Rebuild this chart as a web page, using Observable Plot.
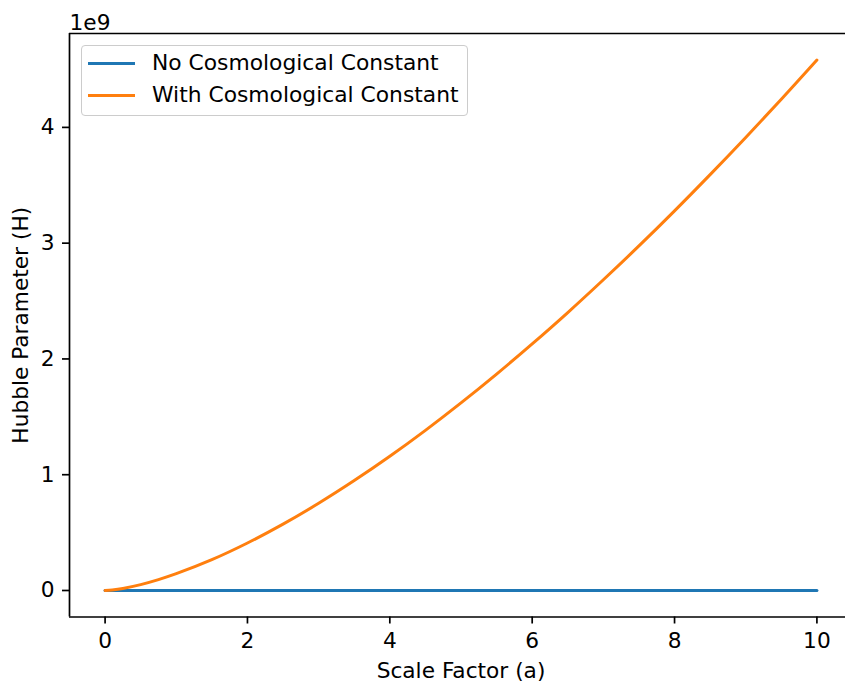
<!DOCTYPE html>
<html><head><meta charset="utf-8">
<script src="https://cdn.jsdelivr.net/npm/d3@7"></script>
<script src="https://cdn.jsdelivr.net/npm/@observablehq/plot@0.6"></script>
<style>
html,body{margin:0;padding:0;background:#fff;font-family:"DejaVu Sans",sans-serif;overflow:hidden;}
#wrap{position:relative;width:845px;height:682px;overflow:hidden;}
#wrap svg{display:block;}
#legend{position:absolute;left:81px;top:45px;width:385px;height:69px;border:1px solid #cccccc;border-radius:4px;background:rgba(255,255,255,0.8);font-size:21.8px;line-height:1;color:#000;}
.sw{position:absolute;left:6px;width:47px;height:3px;}
.lb{position:absolute;left:70px;white-space:nowrap;}
</style></head>
<body><div id="wrap"></div>
<script>
const scaleFactor = [0,0.1,0.25,0.5,0.75,1,1.5,2,2.5,3,3.5,4,4.5,5,5.5,6,6.5,7,7.5,8,8.5,9,9.5,10];
const withLambda = [0,0.005,0.018,0.051,0.094,0.145,0.266,0.41,0.573,0.753,0.949,1.159,1.383,1.62,1.869,2.13,2.401,2.684,2.976,3.279,3.592,3.913,4.243,4.582].map(v=>v*1e9);
const noLambda = [0,0,0,0,0,0,0,0,0,0,0,0,0,0,0,0,0,0,0,0,0,0,0,0];
const seriesNames = ["No Cosmological Constant","With Cosmological Constant"];
const seriesColors = ["#1f77b4","#ff7f0e"];
const xTicks = [0,2,4,6,8,10];
const yTicks = [0,1,2,3,4].map(v=>v*1e9);

const xDomain = [-0.5,10.5];
const yDomain = [-0.229e9,4.811e9];

const rows = [];
scaleFactor.forEach((a,i)=>rows.push({a,h:noLambda[i],s:seriesNames[0]}));
scaleFactor.forEach((a,i)=>rows.push({a,h:withLambda[i],s:seriesNames[1]}));

const FS = 21.7;
const W=845,H=682;
const chart = Plot.plot({
  width:W,height:H,
  marginLeft:69,marginTop:33,marginBottom:65.5,marginRight:0,
  style:{fontFamily:"DejaVu Sans, sans-serif",fontSize:FS+"px",color:"#000",background:"#fff",overflow:"hidden"},
  x:{domain:xDomain,range:[69,852],label:null},
  y:{domain:yDomain,label:null},
  color:{domain:seriesNames,range:seriesColors},
  marks:[
    Plot.line(rows,{x:"a",y:"h",z:"s",stroke:"s",strokeWidth:3,curve:"catmull-rom"}),
    Plot.ruleX([xDomain[0]],{stroke:"#000",strokeWidth:1.7}),
    Plot.ruleY([yDomain[0]],{stroke:"#000",strokeWidth:1.7}),
    Plot.ruleY([yDomain[1]],{stroke:"#000",strokeWidth:1.7}),
    Plot.axisX({ticks:xTicks,tickSize:7,tickPadding:9,tickFormat:d=>String(d),label:null,fontSize:FS,strokeWidth:1.7}),
    Plot.axisY({ticks:yTicks,tickSize:7,tickPadding:8,tickFormat:d=>String(Math.round(d/1e9)),label:null,fontSize:FS,strokeWidth:1.7}),
    Plot.text(["Scale Factor (a)"],{x:()=>(xDomain[0]+xDomain[1])/2,y:()=>yDomain[0],dy:60.5,lineAnchor:"bottom",fontSize:FS,text:d=>d}),
    Plot.text(["Hubble Parameter (H)"],{x:()=>xDomain[0],y:()=>(yDomain[0]+yDomain[1])/2,rotate:-90,dx:-42,lineAnchor:"bottom",fontSize:FS,text:d=>d}),
    Plot.text(["1e9"],{x:()=>xDomain[0],y:()=>yDomain[1],textAnchor:"start",lineAnchor:"bottom",dy:-4,fontSize:FS,text:d=>d})
  ]
});
const wrap=document.getElementById("wrap");
wrap.appendChild(chart);
const lg=document.createElement("div");lg.id="legend";
seriesNames.forEach((n,i)=>{
  const sw=document.createElement("div");sw.className="sw";sw.style.background=seriesColors[i];sw.style.top=(15.5+i*32)+"px";
  const lb=document.createElement("div");lb.className="lb";lb.textContent=n;lb.style.top=(5.6+i*32)+"px";
  lg.appendChild(sw);lg.appendChild(lb);
});
wrap.appendChild(lg);
</script></body></html>
